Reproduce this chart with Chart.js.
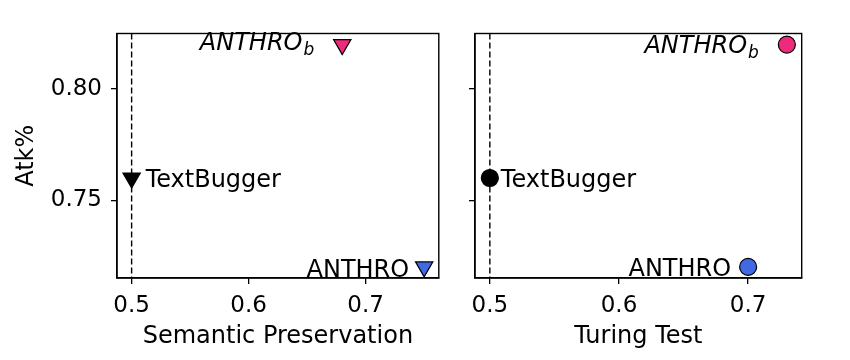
<!DOCTYPE html>
<html><head><meta charset="utf-8">
<script src="https://cdn.jsdelivr.net/npm/chart.js@4.4.1/dist/chart.umd.min.js"></script>
<style>
html,body{margin:0;padding:0;background:#fff;}
#wrap{position:relative;width:850px;height:360px;}
canvas{position:absolute;top:0;}
</style></head>
<body><div id="wrap">
<canvas id="c1" width="450" height="360" style="left:0"></canvas>
<canvas id="c2" width="400" height="360" style="left:450px"></canvas>
</div>
<script>
// ---- data ----
const methods = ["ANTHRO_b", "TextBugger", "ANTHRO"];
const atkPct = [0.82, 0.76, 0.72];
const semanticPreservation = [0.68, 0.50, 0.75];
const turingTest = [0.73, 0.50, 0.70];
const pointColors = ["#EE2A7B", "#000000", "#4169E1"];
const refLineX = 0.5;
const yTicks = [0.75, 0.80];
const yTickLabels = ["0.75", "0.80"];
const xTicks = [0.5, 0.6, 0.7];
const xTickLabels = ["0.5", "0.6", "0.7"];

const FONT = "DejaVu Sans";
Chart.defaults.font.family = FONT;
Chart.defaults.color = "#000";

// label placement: side ('left'|'right'), gap px, baseline offset px
const labelStyle = {
  left:  [{side:"left", gap:28, dy:5}, {side:"right", gap:14, dy:9}, {side:"left", gap:15, dy:10}],
  right: [{side:"left", gap:28, dy:8}, {side:"right", gap:11, dy:9}, {side:"left", gap:17, dy:9}]
};

function limits(arr){
  const mn = Math.min(...arr), mx = Math.max(...arr), m = (mx - mn) * 0.05;
  return [mn - m, mx + m];
}

const framePlugin = {
  id: "frame",
  beforeDatasetsDraw(chart){
    const {ctx, chartArea:a, scales:{x}} = chart;
    const px = x.getPixelForValue(refLineX);
    ctx.save();
    ctx.strokeStyle = "#000"; ctx.lineWidth = 1.4;
    ctx.setLineDash([6, 3]);
    ctx.beginPath(); ctx.moveTo(px, a.top); ctx.lineTo(px, a.bottom); ctx.stroke();
    ctx.restore();
  },
  afterDraw(chart){
    const {ctx, chartArea:a} = chart;
    ctx.save();
    ctx.strokeStyle = "#000"; ctx.lineWidth = 1.4;
    ctx.strokeRect(a.left, a.top, a.right - a.left, a.bottom - a.top);
    ctx.restore();
  }
};

function labelPlugin(styles){
  return {
    id: "ptlabels",
    afterDatasetsDraw(chart){
      const ctx = chart.ctx;
      const meta = chart.getDatasetMeta(0);
      ctx.save();
      ctx.fillStyle = "#000";
      ctx.textBaseline = "alphabetic";
      methods.forEach((name, i) => {
        const pt = meta.data[i];
        const st = styles[i];
        const parts = name.split("_");
        const mainFont = (parts.length > 1 ? "italic " : "") + "24px '" + FONT + "'";
        const subFont = "italic 17px '" + FONT + "'";
        ctx.font = mainFont;
        const w1 = ctx.measureText(parts[0]).width;
        let w2 = 0;
        if (parts.length > 1){ ctx.font = subFont; w2 = ctx.measureText(parts[1]).width + 1; }
        const total = w1 + w2;
        const x0 = st.side === "left" ? pt.x - st.gap - total : pt.x + st.gap;
        const y0 = pt.y + st.dy;
        ctx.font = mainFont;
        ctx.fillText(parts[0], x0, y0);
        if (parts.length > 1){ ctx.font = subFont; ctx.fillText(parts[1], x0 + w1 + 1, y0 + 5); }
      });
      ctx.restore();
    }
  };
}

function makeChart(id, xs, xTitle, pointOpts, opts){
  const [xmin, xmax] = limits(xs);
  const [ymin, ymax] = limits(atkPct);
  return new Chart(document.getElementById(id), {
    type: "scatter",
    data: { datasets: [{
      data: xs.map((v, i) => ({x: v, y: atkPct[i]})),
      backgroundColor: pointColors,
      borderColor: "#000",
      borderWidth: 1.2,
      clip: false,
      ...pointOpts
    }]},
    options: {
      responsive: false, animation: false,
      plugins: { legend: {display:false}, tooltip: {enabled:false} },
      layout: { padding: opts.padding },
      scales: {
        x: {
          type: "linear", min: xmin, max: xmax,
          afterBuildTicks: s => { s.ticks = xTicks.map(v => ({value: v})); },
          afterFit: s => { s.height = opts.xh; },
          ticks: { font: {size: 23}, color: "#000", padding: 8,
                   callback: (v) => xTickLabels[xTicks.indexOf(v)] ?? "" },
          grid: { drawOnChartArea: false, drawTicks: true, tickLength: 6, color: "#000", lineWidth: 1.3 },
          border: { display: true, color: "#000", width: 1.4 },
          title: { display: true, text: xTitle, font: {size: 24}, color: "#000", padding: 0 }
        },
        y: {
          type: "linear", min: ymin, max: ymax,
          afterBuildTicks: s => { s.ticks = yTicks.map(v => ({value: v})); },
          afterFit: s => { s.width = opts.yw; },
          ticks: { font: {size: 23}, color: opts.yLabels ? "#000" : "rgba(0,0,0,0)", padding: 9,
                   callback: (v) => yTickLabels[yTicks.indexOf(v)] ?? "" },
          grid: { drawOnChartArea: false, drawTicks: true, tickLength: 6, color: "#000", lineWidth: 1.3 },
          border: { display: true, color: "#000", width: 1.4 },
          title: { display: opts.yLabels, text: "Atk%", font: {size: 24}, color: "#000", padding: 0 }
        }
      }
    },
    plugins: [framePlugin, labelPlugin(opts.labels)]
  });
}

makeChart("c1", semanticPreservation, "Semantic Preservation",
  { pointStyle: "triangle", rotation: 180, pointRadius: 10 },
  { padding: {left: 12, right: 7, top: 33.5, bottom: 9}, yw: 105, xh: 73, yLabels: true, labels: labelStyle.left });

makeChart("c2", turingTest, "Turing Test",
  { pointStyle: "circle", pointRadius: 8.5 },
  { padding: {left: 0, right: 48.3, top: 33.5, bottom: 9}, yw: 25, xh: 73, yLabels: false, labels: labelStyle.right });
</script>
</body></html>
